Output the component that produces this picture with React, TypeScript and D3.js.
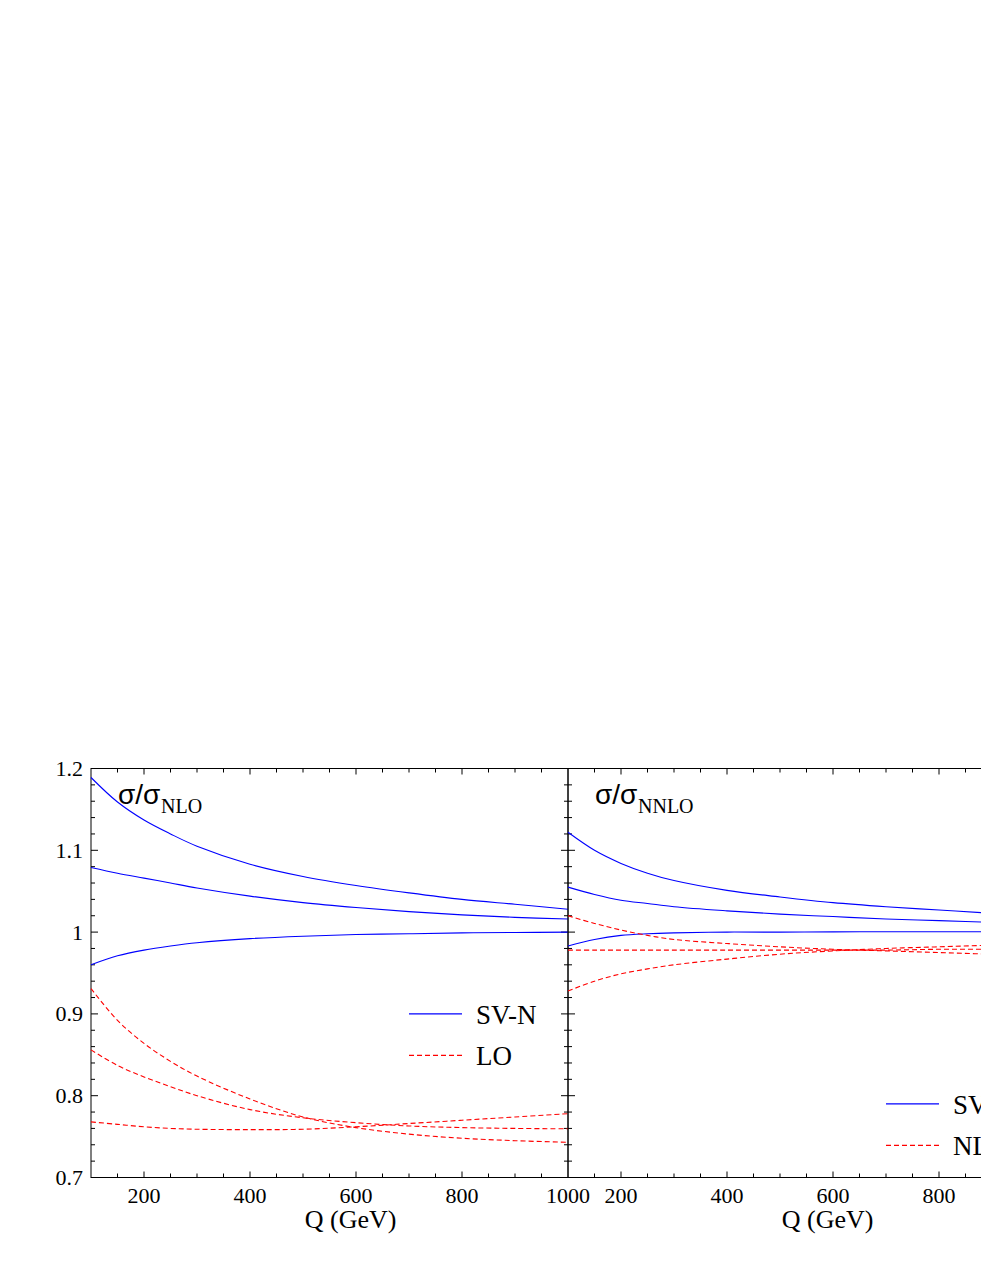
import React from 'react'
import * as d3 from 'd3'

const qValues = [100, 150, 200, 250, 300, 400, 500, 600, 700, 800, 900, 1000]

// left panel: sigma / sigma_NLO
const nloSvTop = [1.189, 1.159, 1.137, 1.12, 1.105, 1.083, 1.068, 1.057, 1.048, 1.04, 1.034, 1.028]
const nloSvMid = [1.079, 1.072, 1.066, 1.06, 1.054, 1.044, 1.036, 1.03, 1.025, 1.021, 1.018, 1.016]
const nloSvLow = [0.96, 0.971, 0.978, 0.983, 0.987, 0.992, 0.995, 0.997, 0.998, 0.999, 0.9995, 1.0]
const loSteep = [0.931, 0.892, 0.864, 0.842, 0.824, 0.796, 0.774, 0.761, 0.753, 0.748, 0.745, 0.743]
const loMid = [0.856, 0.837, 0.823, 0.811, 0.8, 0.783, 0.773, 0.767, 0.763, 0.761, 0.76, 0.7595]
const loFlat = [0.768, 0.765, 0.762, 0.76, 0.759, 0.7585, 0.759, 0.762, 0.766, 0.77, 0.774, 0.778]

// right panel: sigma / sigma_NNLO
const nnloSvTop = [1.122, 1.1, 1.084, 1.072, 1.063, 1.051, 1.043, 1.036, 1.031, 1.027, 1.023, 1.02]
const nnloSvMid = [1.055, 1.046, 1.039, 1.035, 1.031, 1.026, 1.022, 1.019, 1.016, 1.014, 1.012, 1.01]
const nnloSvLow = [0.983, 0.991, 0.996, 0.998, 0.999, 1.0, 1.0, 1.0003, 1.0004, 1.0005, 1.0005, 1.0005]
const nloTop = [1.02, 1.0106, 1.0025, 0.996, 0.991, 0.986, 0.982, 0.979, 0.977, 0.975, 0.973, 0.972]
const nloFlat = [0.978, 0.978, 0.978, 0.978, 0.978, 0.978, 0.978, 0.978, 0.978, 0.979, 0.979, 0.979]
const nloLow = [0.928, 0.94, 0.949, 0.955, 0.96, 0.967, 0.973, 0.977, 0.98, 0.982, 0.984, 0.986]

const xTickLabels = ['200', '400', '600', '800', '1000']
const yTickLabels = ['0.7', '0.8', '0.9', '1', '1.1', '1.2']

const W = 981
const H = 1269
const panelW = 477
const top = 768.5
const bottom = 1177.5
const serif = '"Liberation Serif", "Times New Roman", serif'

const BLUE = '#0000ff'
const RED = '#ff0000'

const Panel = ({ x0, solid, dashed, sub, legend, legendAt, yLabels }) => {
  const x = d3.scaleLinear().domain([100, 1000]).range([x0, x0 + panelW])
  const y = d3.scaleLinear().domain([0.7, 1.2]).range([bottom, top])
  const line = d3
    .line()
    .x((d, i) => x(qValues[i]))
    .y(d => y(d))
    .curve(d3.curveCatmullRom.alpha(0.5))

  const xTicks = d3.range(150, 1000, 50)
  const yTicks = d3.range(1, 25).map(i => 0.7 + i * 0.02)

  const lx = x(legendAt[0])
  const ly1 = y(legendAt[1])
  const ly2 = ly1 + 41.5

  return (
    <g>
      {/* frame */}
      <rect x={x0} y={top} width={panelW} height={bottom - top} fill="none" stroke="#000" strokeWidth={1} />
      {xTicks.map(v => {
        const len = v % 200 === 0 ? 6 : 4
        return (
          <g key={'xt' + v}>
            <line x1={x(v)} x2={x(v)} y1={bottom} y2={bottom - len} stroke="#000" />
            <line x1={x(v)} x2={x(v)} y1={top} y2={top + len} stroke="#000" />
          </g>
        )
      })}
      {yTicks.map((v, i) => {
        const len = (i + 1) % 5 === 0 ? 7 : 4
        return (
          <g key={'yt' + i}>
            <line x1={x0} x2={x0 + len} y1={y(v)} y2={y(v)} stroke="#000" />
            <line x1={x0 + panelW} x2={x0 + panelW - len} y1={y(v)} y2={y(v)} stroke="#000" />
          </g>
        )
      })}
      {xTickLabels.map(t => (
        <text key={'xl' + t} x={x(+t)} y={1202.5} textAnchor="middle" fontFamily={serif} fontSize={22}>
          {t}
        </text>
      ))}
      {yLabels &&
        yTickLabels.map(t => (
          <text key={'yl' + t} x={x0 - 8} y={y(+t) + 7.5} textAnchor="end" fontFamily={serif} fontSize={22}>
            {t}
          </text>
        ))}
      <text x={x(590)} y={1228} textAnchor="middle" fontFamily={serif} fontSize={26}>
        Q (GeV)
      </text>

      {/* title */}
      <text x={x0 + 27} y={804} fontFamily='"Liberation Sans", Arial, sans-serif' fontSize={28}>
        σ/σ
      </text>
      <text x={x0 + 70} y={812.5} fontFamily={serif} fontSize={20}>
        {sub}
      </text>

      {/* curves */}
      {solid.map((s, i) => (
        <path key={'s' + i} d={line(s)} fill="none" stroke={BLUE} strokeWidth={1.1} />
      ))}
      {dashed.map((s, i) => (
        <path key={'d' + i} d={line(s)} fill="none" stroke={RED} strokeWidth={1.1} strokeDasharray="5,3" />
      ))}

      {/* legend */}
      <line x1={lx} x2={lx + 53} y1={ly1} y2={ly1} stroke={BLUE} strokeWidth={1.1} />
      <text x={lx + 67} y={ly1 + 10} fontFamily={serif} fontSize={27}>
        {legend[0]}
      </text>
      <line x1={lx} x2={lx + 53} y1={ly2} y2={ly2} stroke={RED} strokeWidth={1.1} strokeDasharray="5,3" />
      <text x={lx + 67} y={ly2 + 10} fontFamily={serif} fontSize={27}>
        {legend[1]}
      </text>
    </g>
  )
}

export default function App() {
  return (
    <svg width={W} height={H} style={{ position: 'absolute', left: 0, top: 0, background: '#fff' }}>
      <Panel
        x0={91}
        solid={[nloSvTop, nloSvMid, nloSvLow]}
        dashed={[loSteep, loMid, loFlat]}
        sub="NLO"
        legend={['SV-N', 'LO']}
        legendAt={[700, 0.9]}
        yLabels={true}
      />
      <Panel
        x0={568}
        solid={[nnloSvTop, nnloSvMid, nnloSvLow]}
        dashed={[nloTop, nloFlat, nloLow]}
        sub="NNLO"
        legend={['SV-N', 'NLO']}
        legendAt={[700, 0.79]}
        yLabels={false}
      />
    </svg>
  )
}
